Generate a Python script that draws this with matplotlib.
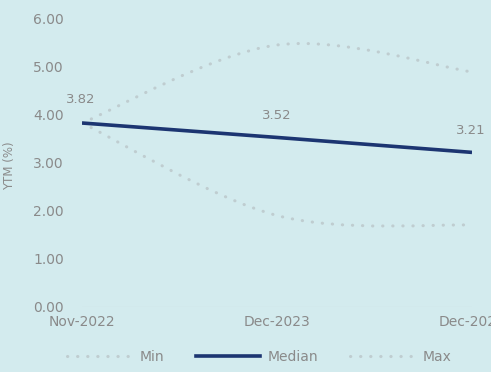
import matplotlib
matplotlib.use("Agg")
import matplotlib.pyplot as plt
from matplotlib.path import Path
from matplotlib.patches import PathPatch
from matplotlib.lines import Line2D

dates = ["Nov-2022", "Dec-2023", "Dec-2024"]
ytm_min = [3.82, 1.90, 1.70]
ytm_median = [3.82, 3.52, 3.21]
ytm_max = [3.82, 5.44, 4.88]
yticks = [0, 1, 2, 3, 4, 5, 6]

bg = "#d3ebee"
navy = "#1c3571"
dotc = "#bfcdd0"
txtc = "#8a8a8a"
dots = (0, (0.1, 3.2))

plt.rcParams["font.family"] = ["DejaVu Sans"]


def smooth_path(ys):
    # catmull-rom style bezier like excel's smoothed line
    pts = list(zip(range(len(ys)), ys))
    verts = [pts[0]]
    codes = [Path.MOVETO]
    for i in range(len(pts) - 1):
        p0 = pts[i - 1] if i > 0 else pts[i]
        p1 = pts[i]
        p2 = pts[i + 1]
        p3 = pts[i + 2] if i + 2 < len(pts) else pts[i + 1]
        c1 = (p1[0] + (p2[0] - p0[0]) / 6, p1[1] + (p2[1] - p0[1]) / 6)
        c2 = (p2[0] - (p3[0] - p1[0]) / 6, p2[1] - (p3[1] - p1[1]) / 6)
        verts += [c1, c2, p2]
        codes += [Path.CURVE4] * 3
    return Path(verts, codes)


fig = plt.figure(figsize=(4.91, 3.72), dpi=100)
fig.patch.set_facecolor(bg)
ax = fig.add_axes([82 / 491, 65 / 372, 390 / 491, 289 / 372])
ax.set_facecolor(bg)

x = range(len(dates))
for ys in (ytm_min, ytm_max):
    ax.add_patch(PathPatch(smooth_path(ys), fill=False, edgecolor=dotc,
                           lw=2.2, linestyle=dots, capstyle="round"))
ax.plot(x, ytm_median, color=navy, lw=2.6, solid_capstyle="butt", zorder=3)

offs = [(-1, 12), (0, 11), (-1, 11)]
for i, v in enumerate(ytm_median):
    ax.annotate(f"{v:.2f}", (i, v), xytext=offs[i], textcoords="offset points",
                ha="center", va="bottom", fontsize=9.5, color=txtc)

ax.axhline(0, color="#c6d6d9", lw=0.8)
ax.set_xlim(0, 2)
ax.set_ylim(0, 6)
ax.set_yticks(yticks)
ax.set_yticklabels([f"{t:.2f}" for t in yticks])
ax.set_xticks(list(x))
ax.set_xticklabels(dates)
ax.tick_params(length=0, labelsize=10, colors=txtc)
ax.tick_params(axis="y", pad=13)
ax.tick_params(axis="x", pad=6)
for s in ax.spines.values():
    s.set_visible(False)
ax.set_ylabel("YTM (%)", fontsize=8.5, color=txtc)
ax.yaxis.set_label_coords(-0.17, 0.49)

handles = [
    Line2D([], [], color=dotc, lw=2.2, linestyle=dots, dash_capstyle="round"),
    Line2D([], [], color=navy, lw=2.6),
    Line2D([], [], color=dotc, lw=2.2, linestyle=dots, dash_capstyle="round"),
]
fig.legend(handles, ["Min", "Median", "Max"], loc="center",
           bbox_to_anchor=(0.528, 15 / 372), ncol=3, frameon=False,
           fontsize=10, labelcolor=txtc, handlelength=4.6, columnspacing=2.3,
           handletextpad=0.6)

fig.savefig("out.png", dpi=100, facecolor=bg)
